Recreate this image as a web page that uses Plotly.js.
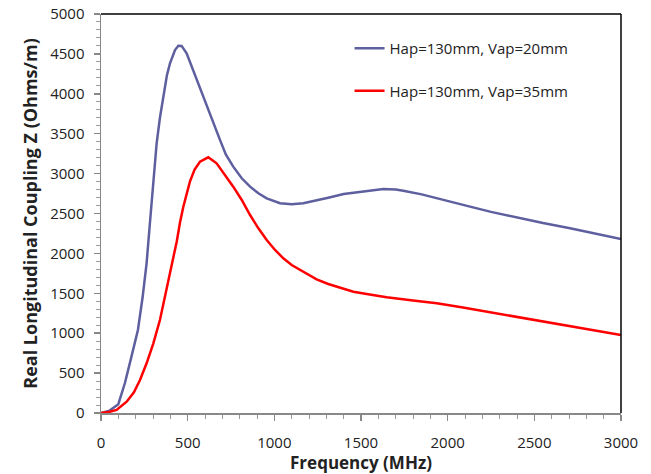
<!DOCTYPE html>
<html>
<head>
<meta charset="utf-8">
<script src="https://cdn.plot.ly/plotly-3.0.1.min.js"></script>
<style>html,body{margin:0;padding:0;background:#fff;}#chart{width:651px;height:474px;}</style>
</head>
<body>
<div id="chart"></div>
<script>
const seriesNames = ["Hap=130mm, Vap=20mm", "Hap=130mm, Vap=35mm"];

const freq20 = [0, 50, 100, 138, 175, 213, 240, 263, 283, 300, 321, 340, 360, 380, 398, 427, 446, 465, 494, 523, 571, 619, 650, 687, 720, 763, 812, 860, 908, 956, 1033, 1100, 1167, 1244, 1311, 1400, 1456, 1550, 1629, 1700, 1744, 1850, 1937, 2050, 2129, 2250, 2417, 2550, 2706, 2850, 3000];
const z20 = [0, 30, 110, 376, 700, 1040, 1450, 1876, 2400, 2850, 3380, 3700, 3980, 4230, 4382, 4549, 4603, 4600, 4507, 4340, 4089, 3797, 3630, 3420, 3240, 3087, 2941, 2836, 2753, 2690, 2628, 2615, 2628, 2661, 2698, 2745, 2761, 2790, 2807, 2800, 2786, 2740, 2690, 2630, 2586, 2520, 2440, 2380, 2315, 2250, 2180];

const freq35 = [0, 50, 90, 148, 190, 225, 263, 302, 340, 379, 417, 437, 456, 475, 513, 540, 571, 619, 667, 715, 763, 812, 860, 908, 956, 1004, 1052, 1100, 1148, 1196, 1244, 1311, 1400, 1456, 1550, 1648, 1800, 1937, 2080, 2225, 2370, 2514, 2650, 2802, 3000];
const z35 = [0, 15, 38, 142, 260, 414, 623, 873, 1165, 1560, 1917, 2150, 2390, 2585, 2899, 3050, 3149, 3204, 3129, 2982, 2836, 2669, 2481, 2314, 2168, 2043, 1938, 1855, 1792, 1729, 1675, 1617, 1555, 1520, 1485, 1450, 1410, 1375, 1325, 1269, 1215, 1157, 1105, 1049, 977];

const xTickVals = [0, 500, 1000, 1500, 2000, 2500, 3000];
const yTickVals = [0, 500, 1000, 1500, 2000, 2500, 3000, 3500, 4000, 4500, 5000];

const font = "Open Sans, Liberation Sans, sans-serif";

const traces = [
  {x: freq20, y: z20, name: seriesNames[0], type: "scatter", mode: "lines",
   line: {color: "#5d5f9e", width: 2.5}, legendgroup: "a"},
  {x: freq35, y: z35, name: seriesNames[1], type: "scatter", mode: "lines",
   line: {color: "#ff0000", width: 2.5}, legendgroup: "b"}
];

const axisCommon = {
  showline: true, linecolor: "#888888", linewidth: 1.5,
  showgrid: false, zeroline: false,
  ticks: "outside", ticklen: 6, tickcolor: "#888888", tickwidth: 1.5,
  tickfont: {family: font, size: 15, color: "#222"},
  minor: {ticks: "outside", ticklen: 4, tickcolor: "#999999", tickwidth: 1, dtick: 100}
};

const layout = {
  width: 651, height: 474,
  margin: {l: 101, r: 30, t: 14, b: 61},
  paper_bgcolor: "#ffffff", plot_bgcolor: "#ffffff",
  showlegend: true,
  legend: {x: 0.478, y: 0.955, xanchor: "left", yanchor: "top", tracegroupgap: 20,
           font: {family: font, size: 15, color: "#222"}, bgcolor: "rgba(0,0,0,0)"},
  xaxis: Object.assign({}, axisCommon, {
    range: [0, 3000], tickvals: xTickVals, ticklabelstandoff: 9,
    minor: Object.assign({}, axisCommon.minor, {dtick: 100}),
    title: {text: "<b>Frequency (MHz)</b>", font: {family: font, size: 17, color: "#222"}, standoff: 8}
  }),
  yaxis: Object.assign({}, axisCommon, {
    range: [0, 5000], tickvals: yTickVals, ticklabelstandoff: 6,
    minor: Object.assign({}, axisCommon.minor, {dtick: 100}),
    title: {text: "<b>Real Longitudinal Coupling Z (Ohms/m)</b>", font: {family: font, size: 18, color: "#222"}, standoff: 8}
  }),
  shapes: [
    {type: "line", xref: "paper", yref: "paper", x0: 0, x1: 1, y0: 1, y1: 1, line: {color: "#000", width: 1.5}},
    {type: "line", xref: "paper", yref: "paper", x0: 1, x1: 1, y0: 0, y1: 1, line: {color: "#000", width: 1.5}}
  ]
};

Plotly.newPlot("chart", traces, layout, {displayModeBar: false, staticPlot: true});
</script>
</body>
</html>
